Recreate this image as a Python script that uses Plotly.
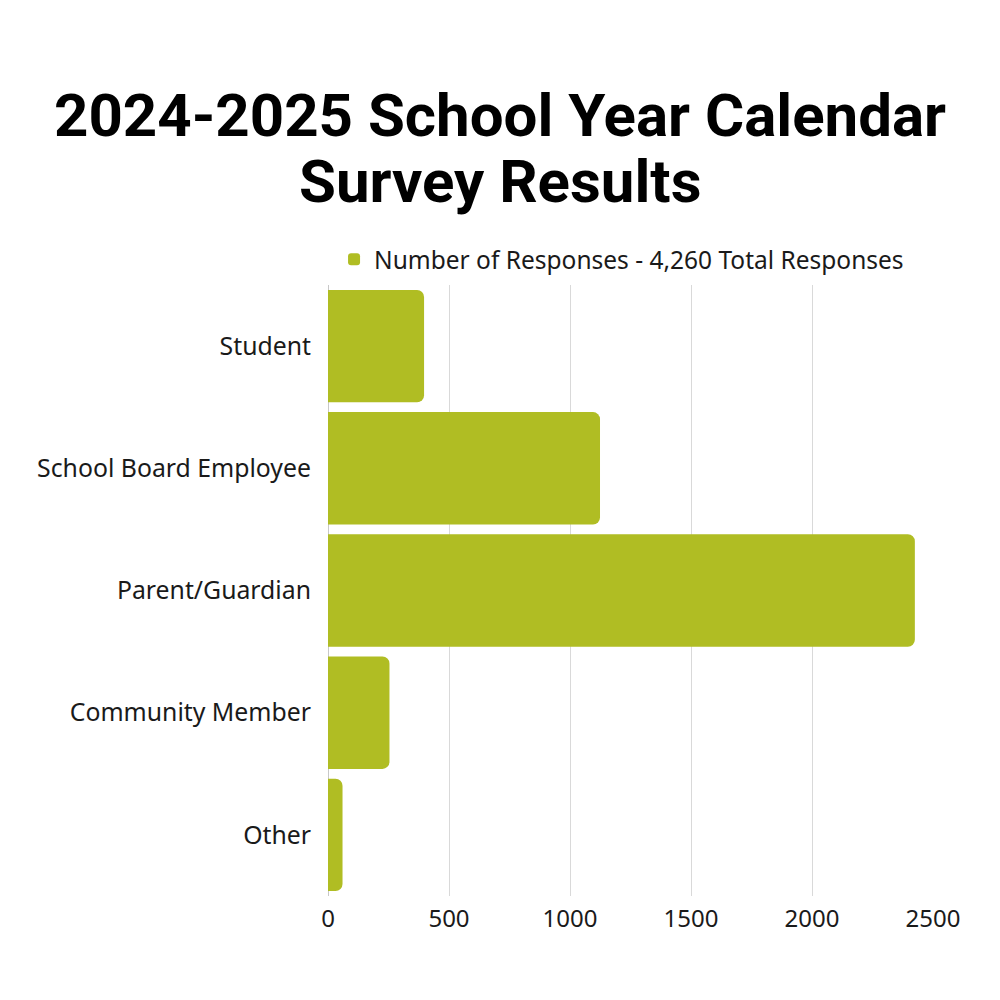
import plotly.graph_objects as go

categories = ["Student", "School Board Employee", "Parent/Guardian", "Community Member", "Other"]
responses = [397, 1124, 2425, 254, 60]
series_name = "Number of Responses - 4,260 Total Responses"
x_ticks = [0, 500, 1000, 1500, 2000, 2500]
title_line1 = "2024-2025 School Year Calendar"
title_line2 = "Survey Results"

fig = go.Figure()
fig.add_trace(go.Bar(
    y=categories,
    x=responses,
    orientation="h",
    name=series_name,
    marker=dict(color="#b0bd23", line=dict(width=0)),
    showlegend=True,
))

fig.update_layout(
    width=1000, height=1000,
    paper_bgcolor="white", plot_bgcolor="white",
    margin=dict(l=328, r=67, t=285, b=104),
    bargap=0.08,
    barcornerradius=7,
    font=dict(family="Noto Sans, sans-serif", color="#1a1a1a", size=20),
    title=dict(
        text="<b>" + title_line1 + "</b>",
        x=0.5, xref="container", xanchor="center",
        y=0.885, yref="container", yanchor="middle",
        font=dict(family="Roboto, sans-serif", size=60, color="#000000"),
    ),
    annotations=[dict(
        text="<b>" + title_line2 + "</b>",
        x=0.2843, xref="paper", xanchor="center",
        y=1.17, yref="paper", yanchor="middle",
        showarrow=False,
        font=dict(family="Roboto, sans-serif", size=60, color="#000000"),
    )],
    legend=dict(
        orientation="h",
        x=0.01, xanchor="left",
        y=1.005, yanchor="bottom",
        font=dict(size=24.5, color="#1a1a1a"),
        itemwidth=30,
    ),
)

fig.update_xaxes(
    range=[0, 2500],
    tickvals=x_ticks,
    showgrid=True, gridcolor="#d9d9d9", gridwidth=1,
    zeroline=True, zerolinecolor="#c8c8c8", zerolinewidth=1,
    tickfont=dict(size=24, color="#1a1a1a"),
    ticks="", showline=False,
    ticklabelstandoff=6,
)
fig.update_yaxes(
    categoryorder="array", categoryarray=categories,
    autorange="reversed",
    tickfont=dict(size=24.8, color="#1a1a1a"),
    ticks="", ticklabelstandoff=16,
    showline=False, showgrid=False,
)

fig.write_html("out.html")
